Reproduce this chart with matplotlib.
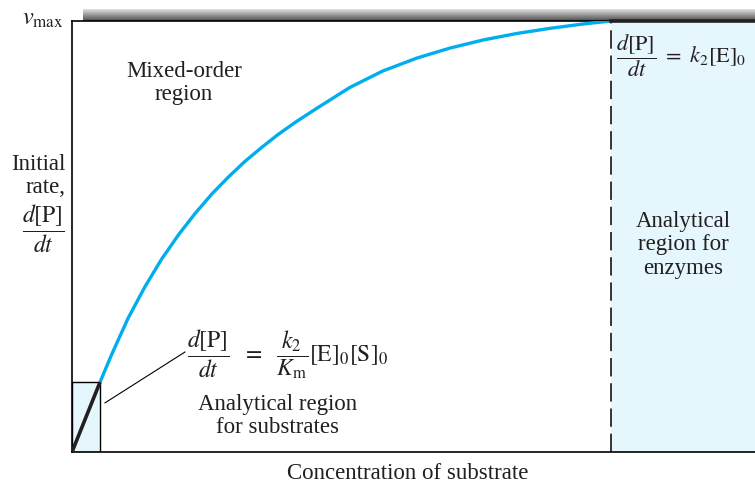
import numpy as np
import matplotlib
matplotlib.use("Agg")
import matplotlib.pyplot as plt

plt.rcParams["font.family"] = "serif"
plt.rcParams["font.serif"] = ["Liberation Serif", "DejaVu Serif"]
plt.rcParams["mathtext.fontset"] = "stix"

# --------- DATA ----------
# initial rate (fraction of v_max) vs substrate concentration (arbitrary units)
linear_conc = [0.0, 0.41]
linear_rate = [0.0, 0.162]

curve_conc = [0.41, 0.58, 0.82, 1.07, 1.31, 1.56, 1.80, 2.05, 2.29, 2.53, 2.78,
              3.02, 3.27, 3.58, 4.07, 4.55, 5.05, 5.53, 6.02, 6.51, 7.00, 7.48, 7.89]
curve_rate = [0.162, 0.226, 0.310, 0.384, 0.447, 0.504, 0.553, 0.599, 0.638, 0.674, 0.707,
              0.737, 0.765, 0.797, 0.846, 0.884, 0.914, 0.937, 0.956, 0.971, 0.983, 0.993, 1.0]

plateau_conc = [7.89, 10.0]
plateau_rate = [1.0, 1.0]

x_max = 10.0
v_max = 1.0

TEXT = "#231f20"
BLUE = "#00aeef"
PALE = "#e6f6fd"
FS = 16.5    # body text
FM = 17      # formulas

W, H = 755, 485


def fx(px):
    return px / W


def fy(py):
    return 1 - py / H


fig = plt.figure(figsize=(W / 100, H / 100), dpi=100)
fig.patch.set_facecolor("white")

# grey shaded band above v_max
band = fig.add_axes([fx(83), fy(22), fx(755 - 83), 12 / H], zorder=0)
grad = np.linspace(0.93, 0.30, 50).reshape(-1, 1)
band.imshow(grad, cmap="gray", vmin=0, vmax=1, aspect="auto", interpolation="bilinear")
band.axis("off")

ax = fig.add_axes([fx(72), fy(453), fx(755 - 72), 431 / H], zorder=1)
ax.patch.set_alpha(0)
ax.set_xlim(0, x_max)
ax.set_ylim(0, v_max)
for s in ["top", "right"]:
    ax.spines[s].set_visible(False)
for s in ["left", "bottom"]:
    ax.spines[s].set_linewidth(1.2)
    ax.spines[s].set_color("black")
ax.set_xticks([])
ax.set_yticks([])

# analytical regions
ax.axvspan(plateau_conc[0], x_max, color=PALE, lw=0, zorder=0)
ax.add_patch(plt.Rectangle((0, 0), linear_conc[1], linear_rate[1], facecolor=PALE,
                           edgecolor="black", lw=1.0, zorder=1))
ax.axvline(plateau_conc[0], color="black", lw=1.1, dashes=(12, 4.5), zorder=2)

# v_max line
ax.plot([0, plateau_conc[0]], [v_max, v_max], color="black", lw=1.2, clip_on=False, zorder=2)

# rate curve
ax.plot(curve_conc, curve_rate, color=BLUE, lw=2.4, solid_capstyle="butt",
        solid_joinstyle="round", zorder=3)
ax.plot(linear_conc, linear_rate, color="#231f20", lw=2.6, solid_capstyle="butt", zorder=4)
ax.plot(plateau_conc, plateau_rate, color="#231f20", lw=2.6, clip_on=False, zorder=4)

# leader line to first-order formula
ax.plot([0.483, 1.654], [0.114, 0.232], color="black", lw=0.8, zorder=3)

# --------- TEXT ----------
fig.text(fx(64), fy(20), r"$v_{\mathrm{max}}$", ha="right", va="center", fontsize=17.5, color=TEXT)

fig.text(fx(184), fy(83), "Mixed-order\nregion", ha="center", va="center", fontsize=FS,
         color=TEXT, linespacing=1.15)

fig.text(fx(66), fy(176), "Initial\nrate,", ha="right", va="center", fontsize=FS,
         color=TEXT, linespacing=1.1)
fig.text(fx(43), fy(229), r"$\dfrac{d[\mathrm{P}]}{dt}$", ha="center", va="center",
         fontsize=FM, color=TEXT)

fig.text(fx(616), fy(56), r"$\dfrac{d[\mathrm{P}]}{dt}\ =\ k_2[\mathrm{E}]_0$",
         ha="left", va="center", fontsize=16, color=TEXT)

fig.text(fx(683), fy(245), "Analytical\nregion for\nenzymes", ha="center", va="center",
         fontsize=FS, color=TEXT, linespacing=1.15)

fig.text(fx(187), fy(355),
         r"$\dfrac{d[\mathrm{P}]}{dt}\ \ =\ \ \dfrac{k_2}{K_\mathrm{m}}[\mathrm{E}]_0[\mathrm{S}]_0$",
         ha="left", va="center", fontsize=FM, color=TEXT)

fig.text(fx(278), fy(416), "Analytical region\nfor substrates", ha="center", va="center",
         fontsize=FS, color=TEXT, linespacing=1.15)

fig.text(fx(408), fy(474), "Concentration of substrate", ha="center", va="center",
         fontsize=FS, color=TEXT)

fig.savefig("out.png", dpi=100, facecolor="white")
